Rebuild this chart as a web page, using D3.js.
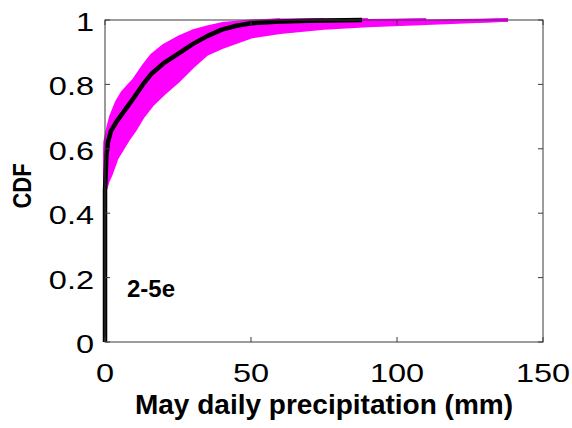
<!DOCTYPE html>
<html lang="en">
<head>
<meta charset="UTF-8">
<title>May daily precipitation CDF</title>
<style>
  body { margin: 0; background: #fff; }
  svg { display: block; }
</style>
</head>
<body>
<svg id="chart" width="572" height="428"></svg>
<script src="https://d3js.org/d3.v7.min.js"></script>
<script>
// precipitation (mm) at which each ensemble CDF is read
const gridX = [0, 0, 1, 2, 4, 6, 8, 10, 13, 16, 20, 25, 30, 35, 40, 50, 60, 75, 90, 110, 138];

// simulated ensemble members (magenta), null once the member has ended
const member1  = [0, .62, .665, .70, .745, .775, .795, .815, .855, .89, .92, .945, .965, .978, .988, .996, 1, null, null, null, null];
const member2  = [0, .60, .645, .685, .73, .76, .785, .805, .845, .878, .91, .938, .96, .974, .985, .994, .999, 1, null, null, null];
const member3  = [0, .58, .63, .67, .715, .745, .77, .79, .83, .865, .898, .93, .954, .969, .981, .991, .997, 1, null, null, null];
const member4  = [0, .56, .61, .655, .70, .73, .755, .775, .815, .85, .885, .92, .946, .963, .976, .988, .995, .999, 1, null, null];
const member5  = [0, .545, .595, .635, .68, .71, .735, .76, .80, .835, .87, .905, .935, .955, .97, .984, .992, .997, 1, null, null];
const member6  = [0, .53, .575, .615, .66, .69, .715, .74, .78, .815, .85, .89, .922, .945, .962, .978, .988, .994, .998, 1, null];
const member7  = [0, .515, .555, .59, .64, .67, .695, .72, .76, .795, .83, .872, .905, .932, .95, .97, .982, .99, .995, 1, null];
const member8  = [0, .50, .535, .57, .615, .65, .675, .70, .742, .775, .81, .852, .89, .918, .935, .96, .973, .983, .99, .996, 1];
const member9  = [0, .485, .515, .545, .59, .625, .652, .675, .72, .755, .79, .83, .872, .905, .925, .952, .966, .978, .986, .993, 1];
const member10 = [0, .47, .50, .52, .57, .60, .63, .655, .70, .735, .77, .81, .855, .895, .915, .948, .962, .975, .983, .99, 1];
const members = [member1, member2, member3, member4, member5, member6, member7, member8, member9, member10];

// observed CDF (black)
const obsX   = [0, 0, 0.5, 1, 2, 4, 6, 8, 10, 13, 16, 20, 25, 30, 35, 40, 45, 50, 60, 70, 88];
const obsCdf = [0, .47, .58, .62, .655, .685, .71, .735, .76, .80, .834, .865, .895, .925, .95, .97, .982, .99, .995, .998, 1];

const xTicks = [0, 50, 100, 150];
const yTicks = [0, 0.2, 0.4, 0.6, 0.8, 1];
const yTickLabels = ["0", "0.2", "0.4", "0.6", "0.8", "1"];
const xTitle = "May daily precipitation (mm)";
const yTitle = "CDF";
const panelTag = "2-5e";

const plotLeft = 105, plotTop = 20, plotRight = 543, plotBottom = 342;
const svg = d3.select("#chart");

const x = d3.scaleLinear().domain([0, 150]).range([plotLeft, plotRight]);
const y = d3.scaleLinear().domain([0, 1]).range([plotBottom, plotTop]);

// band between the highest and lowest member
const band = d3.area()
    .x((d, i) => x(gridX[i]))
    .y0((d, i) => y(member10[i]))
    .y1((d, i) => y(member1[i] == null ? 1 : member1[i]));
svg.append("path")
    .datum(gridX)
    .attr("d", band)
    .attr("fill", "#ff00ff");

const line = d3.line()
    .defined(d => d[1] != null)
    .x(d => x(d[0]))
    .y(d => y(d[1]));

svg.append("g").selectAll("path")
    .data(members)
    .join("path")
    .attr("d", m => line(m.map((v, i) => [gridX[i], v])))
    .attr("fill", "none")
    .attr("stroke", "#ff00ff")
    .attr("stroke-width", 3.5)
    .attr("stroke-linejoin", "round");

svg.append("path")
    .attr("d", line(obsX.map((v, i) => [v, obsCdf[i]])))
    .attr("fill", "none")
    .attr("stroke", "#000")
    .attr("stroke-width", 4.5)
    .attr("stroke-linejoin", "round");

// axes box with inward ticks on all four sides
const axisColor = "#3a3a3a";
svg.append("rect")
    .attr("x", plotLeft).attr("y", plotTop)
    .attr("width", plotRight - plotLeft).attr("height", plotBottom - plotTop)
    .attr("fill", "none").attr("stroke", axisColor).attr("stroke-width", 1);

const tickLen = 5;
const ticks = svg.append("g").attr("stroke", axisColor).attr("stroke-width", 1);
xTicks.forEach(t => {
    ticks.append("line").attr("x1", x(t)).attr("x2", x(t)).attr("y1", plotBottom).attr("y2", plotBottom - tickLen);
    ticks.append("line").attr("x1", x(t)).attr("x2", x(t)).attr("y1", plotTop).attr("y2", plotTop + tickLen);
});
yTicks.forEach(t => {
    ticks.append("line").attr("x1", plotLeft).attr("x2", plotLeft + tickLen).attr("y1", y(t)).attr("y2", y(t));
    ticks.append("line").attr("x1", plotRight).attr("x2", plotRight - tickLen).attr("y1", y(t)).attr("y2", y(t));
});

const font = "'Liberation Sans', Arial, sans-serif";

svg.append("g").selectAll("text")
    .data(xTicks)
    .join("text")
    .attr("transform", t => `translate(${x(t)},382) scale(1.3,1)`)
    .attr("text-anchor", "middle")
    .attr("font-family", font)
    .attr("font-size", 25)
    .text(t => t);

svg.append("g").selectAll("text")
    .data(yTicks)
    .join("text")
    .attr("transform", t => `translate(94,${y(t) + 11}) scale(1.3,1)`)
    .attr("text-anchor", "end")
    .attr("font-family", font)
    .attr("font-size", 25)
    .text((t, i) => yTickLabels[i]);

svg.append("text")
    .attr("x", (plotLeft + plotRight) / 2)
    .attr("y", 414)
    .attr("text-anchor", "middle")
    .attr("font-family", font)
    .attr("font-weight", "bold")
    .attr("font-size", 28)
    .text(xTitle);

svg.append("text")
    .attr("transform", `translate(31,186) rotate(-90) scale(1,1.15)`)
    .attr("text-anchor", "middle")
    .attr("font-family", font)
    .attr("font-weight", "bold")
    .attr("font-size", 22)
    .text(yTitle);

svg.append("text")
    .attr("x", 127)
    .attr("y", 297)
    .attr("font-family", font)
    .attr("font-weight", "bold")
    .attr("font-size", 24)
    .text(panelTag);
</script>
</body>
</html>
